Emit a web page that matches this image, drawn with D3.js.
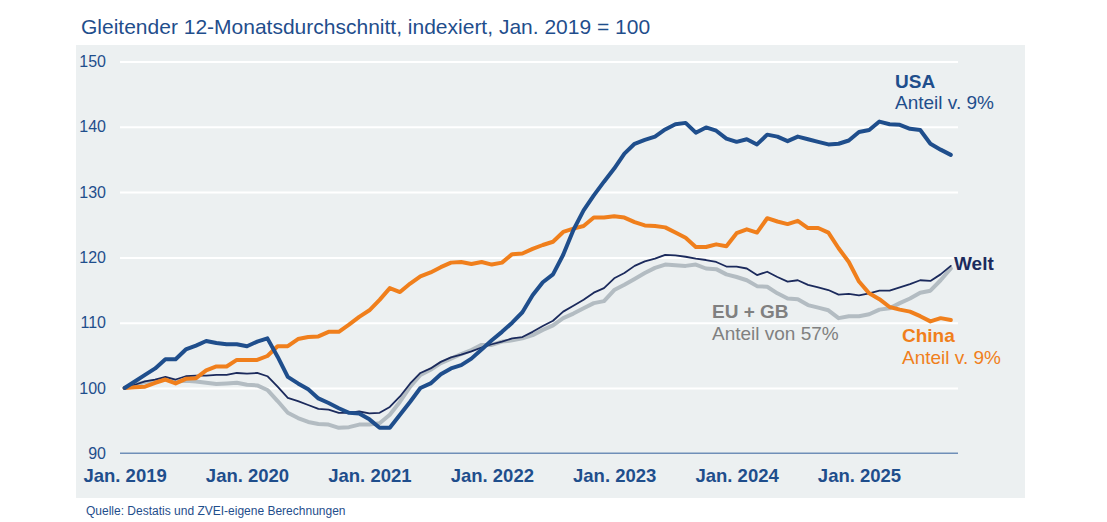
<!DOCTYPE html>
<html>
<head>
<meta charset="utf-8">
<script src="https://cdn.jsdelivr.net/npm/d3@7"></script>
<style>
  body { margin: 0; background: #fff; }
  svg { font-family: "Liberation Sans", Arial, sans-serif; }
</style>
</head>
<body>
<div id="chart"></div>
<script>
// Monthly values Jan. 2019 .. Oct. 2025 (82 months), index Jan. 2019 = 100
const usa = [
  100, 101, 102, 103, 104.4, 104.4, 105.9, 106.5, 107.2, 106.9, 106.7, 106.7,
  106.4, 107.1, 107.6, 104.8, 101.7, 100.7, 99.8, 98.4, 97.7, 96.9, 96.2, 96.1,
  95.2, 93.9, 93.9, 95.9, 97.9, 100, 100.7, 102.1, 103, 103.5, 104.5, 105.9,
  107.3, 108.6, 110, 111.6, 114.2, 116.2, 117.4, 120.4, 124.2, 127.2, 129.5, 131.6,
  133.6, 135.9, 137.4, 138, 138.5, 139.6, 140.4, 140.6, 139.1, 139.9, 139.4, 138.2,
  137.7, 138.1, 137.3, 138.8, 138.5, 137.8, 138.5, 138.1, 137.7, 137.3, 137.4, 137.9,
  139.2, 139.5, 140.8, 140.4, 140.3, 139.7, 139.5, 137.4, 136.5, 135.7
];
const china = [
  100, 100.1, 100.2, 100.8, 101.3, 100.7, 101.4, 101.5, 102.7, 103.3, 103.3, 104.3,
  104.3, 104.3, 104.9, 106.4, 106.4, 107.5, 107.8, 107.9, 108.6, 108.6, 109.7, 110.9,
  111.9, 113.5, 115.3, 114.7, 116, 117.1, 117.7, 118.5, 119.2, 119.3, 119, 119.3,
  118.9, 119.2, 120.5, 120.6, 121.3, 121.9, 122.4, 123.9, 124.4, 124.8, 126.1, 126.1,
  126.3, 126.1, 125.4, 124.9, 124.8, 124.6, 123.8, 123, 121.6, 121.6, 122, 121.7,
  123.7, 124.3, 123.8, 126, 125.5, 125.1, 125.6, 124.5, 124.5, 123.8, 121.4, 119.3,
  116.3, 114.5, 113.6, 112.4, 112, 111.7, 111, 110.2, 110.7, 110.4
];
const welt = [
  100, 100.5, 101, 101.3, 101.7, 101.3, 101.8, 101.9, 101.9, 102, 102, 102.3,
  102.2, 102.3, 101.8, 100.2, 98.5, 98, 97.4, 96.8, 96.7, 96.2, 96.2, 96.4,
  96.1, 96.2, 97.1, 98.7, 100.7, 102.3, 103, 104, 104.7, 105.1, 105.6, 106.2,
  106.7, 107.1, 107.6, 107.8, 108.6, 109.5, 110.3, 111.7, 112.6, 113.5, 114.6, 115.3,
  116.8, 117.6, 118.7, 119.4, 119.8, 120.4, 120.3, 120.1, 119.8, 119.6, 119.3, 118.6,
  118.6, 118.3, 117.3, 117.8, 117, 116.3, 116.5, 115.8, 115.4, 115, 114.3, 114.4,
  114.2, 114.5, 114.9, 114.9, 115.4, 115.9, 116.5, 116.4, 117.4, 118.7
];
const euGb = [
  100, 100.5, 100.9, 101.1, 101.3, 101, 101.1, 101, 100.8, 100.6, 100.7, 100.8,
  100.5, 100.4, 99.7, 98, 96.2, 95.4, 94.8, 94.5, 94.4, 93.9, 94, 94.4,
  94.4, 94.6, 95.9, 97.9, 100.2, 102, 102.8, 103.8, 104.5, 105.2, 105.8, 106.6,
  106.6, 107.1, 107.3, 107.6, 108.1, 108.9, 109.6, 110.7, 111.4, 112.2, 113, 113.3,
  115, 115.8, 116.7, 117.6, 118.4, 118.9, 118.8, 118.7, 118.9, 118.3, 118.2, 117.4,
  117, 116.5, 115.6, 115.5, 114.5, 113.7, 113.6, 112.7, 112.3, 111.9, 110.7, 111,
  111, 111.3, 112, 112.2, 113, 113.7, 114.6, 114.9, 116.5, 118.3
];
const yTicks = [90, 100, 110, 120, 130, 140, 150];
const xTickMonths = [0, 12, 24, 36, 48, 60, 72];
const xTickLabels = ["Jan. 2019", "Jan. 2020", "Jan. 2021", "Jan. 2022", "Jan. 2023", "Jan. 2024", "Jan. 2025"];

const W = 1107, H = 522;
const svg = d3.select("#chart").append("svg")
    .attr("width", W)
    .attr("height", H);

// title
svg.append("text")
    .attr("x", 81)
    .attr("y", 34)
    .style("font-size", "21px")
    .style("fill", "#1f4e8c")
    .text("Gleitender 12-Monatsdurchschnitt, indexiert, Jan. 2019 = 100");

// panel background
svg.append("rect")
    .attr("x", 76).attr("y", 45)
    .attr("width", 949).attr("height", 453)
    .attr("fill", "#ecf0f1");

const x = d3.scaleLinear().domain([0, 82]).range([124.6, 961]);
const y = d3.scaleLinear().domain([90, 150]).range([453.3, 61.5]);

const gridLeft = 120, gridRight = 958;

// y axis with white gridlines
const yAxis = svg.append("g")
    .attr("transform", `translate(${gridLeft},0)`)
    .call(d3.axisLeft(y).tickValues(yTicks).tickSize(-(gridRight - gridLeft)).tickPadding(14));
yAxis.select(".domain").remove();
yAxis.selectAll(".tick line")
    .attr("stroke", "#ffffff")
    .attr("stroke-width", 2)
    .filter(d => d === 90).remove();
yAxis.selectAll(".tick text")
    .style("font-size", "16px")
    .style("fill", "#1f4e8c")
    .style("font-family", "'Liberation Sans', Arial, sans-serif");

// x axis
const xAxis = svg.append("g")
    .attr("transform", `translate(0,${y(90)})`)
    .call(d3.axisBottom(x).tickValues(xTickMonths).tickFormat((d, i) => xTickLabels[i]).tickSize(0).tickPadding(16));
xAxis.select(".domain").remove();
xAxis.append("line")
    .attr("x1", gridLeft).attr("x2", gridRight)
    .attr("stroke", "#6f8fb8")
    .attr("stroke-width", 1.6);
xAxis.selectAll(".tick text")
    .style("font-size", "18.5px")
    .style("font-weight", "bold")
    .style("fill", "#1f4e8c")
    .style("font-family", "'Liberation Sans', Arial, sans-serif");

const line = d3.line()
    .x((d, i) => x(i))
    .y(d => y(d));

const series = [
    {name: "EU + GB", values: euGb, color: "#b3bcc2", width: 4},
    {name: "Welt", values: welt, color: "#1b2a5c", width: 1.8},
    {name: "China", values: china, color: "#f07f1c", width: 4},
    {name: "USA", values: usa, color: "#1f4e8c", width: 4}
];

svg.selectAll(".series")
    .data(series)
    .enter().append("path")
    .attr("class", "series")
    .attr("d", d => line(d.values))
    .attr("fill", "none")
    .attr("stroke", d => d.color)
    .attr("stroke-width", d => d.width)
    .attr("stroke-linejoin", "round")
    .attr("stroke-linecap", "round");

// labels
const labels = [
    {x: 895, y: 88, text: "USA", color: "#1f4e8c", bold: true},
    {x: 895, y: 109, text: "Anteil v. 9%", color: "#1f4e8c", bold: false},
    {x: 954, y: 270, text: "Welt", color: "#1b2a5c", bold: true},
    {x: 712, y: 318, text: "EU + GB", color: "#808080", bold: true},
    {x: 712, y: 340, text: "Anteil von 57%", color: "#808080", bold: false},
    {x: 902, y: 342, text: "China", color: "#f07f1c", bold: true},
    {x: 902, y: 364, text: "Anteil v. 9%", color: "#f07f1c", bold: false}
];
svg.selectAll(".lbl")
    .data(labels)
    .enter().append("text")
    .attr("class", "lbl")
    .attr("x", d => d.x)
    .attr("y", d => d.y)
    .style("font-size", "19px")
    .style("font-weight", d => d.bold ? "bold" : "normal")
    .style("fill", d => d.color)
    .text(d => d.text);

// source
svg.append("text")
    .attr("x", 86)
    .attr("y", 515)
    .style("font-size", "12px")
    .style("fill", "#1f4e8c")
    .text("Quelle: Destatis und ZVEI-eigene Berechnungen");
</script>
</body>
</html>
